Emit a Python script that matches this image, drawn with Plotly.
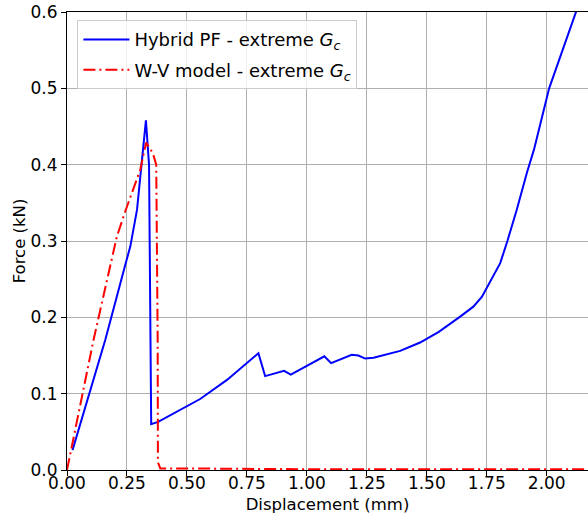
import plotly.graph_objs as go

# Hybrid PF curve (displacement mm, force kN)
hybrid_x = [0.023, 0.06, 0.111, 0.16, 0.243, 0.264, 0.292, 0.323, 0.329, 0.342, 0.350, 0.351,
            0.38, 0.45, 0.5, 0.555, 0.667, 0.75, 0.798, 0.826, 0.905, 0.933, 1.073, 1.101,
            1.187, 1.215, 1.243, 1.278, 1.389, 1.472, 1.55, 1.639, 1.694, 1.73, 1.757, 1.806,
            1.836, 1.875, 1.917, 1.947, 2.01, 2.122, 2.17]
hybrid_y = [0.026, 0.065, 0.118, 0.171, 0.269, 0.293, 0.341, 0.433, 0.458, 0.40, 0.17, 0.06,
            0.063, 0.075, 0.084, 0.093, 0.118, 0.140, 0.153, 0.123, 0.130, 0.125, 0.149, 0.140,
            0.151, 0.150, 0.146, 0.147, 0.156, 0.167, 0.181, 0.201, 0.214, 0.227, 0.243, 0.271,
            0.300, 0.341, 0.389, 0.420, 0.500, 0.600, 0.643]

# W-V model curve
wv_x = [0.0, 0.02, 0.076, 0.111, 0.208, 0.243, 0.305, 0.33, 0.358, 0.372, 0.378, 0.379,
        0.389, 0.5, 1.0, 1.5, 2.0, 2.172]
wv_y = [0.0, 0.03, 0.118, 0.171, 0.306, 0.339, 0.393, 0.429, 0.415, 0.40, 0.17, 0.01,
        0.002, 0.002, 0.001, 0.001, 0.001, 0.001]

x_range = [0, 2.172]
y_range = [0, 0.6]

hybrid = go.Scatter(
    x=hybrid_x,
    y=hybrid_y,
    mode='lines',
    name='Hybrid PF - extreme <i>G<sub>c</sub></i>',
    legendgroup='a',
    line=dict(color='rgb(0,0,255)', width=2)
)
wv = go.Scatter(
    x=wv_x,
    y=wv_y,
    mode='lines',
    name='W-V model - extreme <i>G<sub>c</sub></i>',
    legendgroup='b',
    line=dict(color='rgb(255,0,0)', width=2, dash='12px,4px,2px,4px')
)

grid = 'rgb(176,176,176)'
layout = go.Layout(
    width=588,
    height=515,
    margin=dict(l=67, r=0, t=12, b=45, autoexpand=False),
    paper_bgcolor='white',
    plot_bgcolor='white',
    font=dict(family='DejaVu Sans', size=17, color='black'),
    showlegend=True,
    legend=dict(
        x=0.02, y=0.982, xanchor='left', yanchor='top',
        bgcolor='rgba(255,255,255,0.8)',
        bordercolor='rgb(204,204,204)', borderwidth=1,
        font=dict(size=18),
        tracegroupgap=4,
        itemwidth=46,
    ),
    xaxis=dict(
        title=dict(text='Displacement (mm)', standoff=6, font=dict(size=16.5)),
        range=x_range,
        dtick=0.25, tick0=0, tickformat='.2f',
        showgrid=True, gridcolor=grid, gridwidth=1,
        zeroline=False,
        showline=True, linecolor='black', linewidth=1, mirror=True,
        ticks='outside', ticklen=5, tickcolor='black',
        ticklabelstandoff=-7,
        automargin=False,
    ),
    yaxis=dict(
        title=dict(text='Force (kN)', standoff=0, font=dict(size=16.5)),
        range=y_range,
        dtick=0.1, tick0=0, tickformat='.1f',
        showgrid=True, gridcolor=grid, gridwidth=1,
        zeroline=False,
        showline=True, linecolor='black', linewidth=1,
        ticks='outside', ticklen=5, tickcolor='black',
        automargin=False,
    ),
)

fig = go.Figure(data=[hybrid, wv], layout=layout)
# drop the default page margin so the figure sits at the window's top-left corner
fig.write_html("out.html", config=dict(displayModeBar=False),
               post_script="document.body.style.margin='0';")
